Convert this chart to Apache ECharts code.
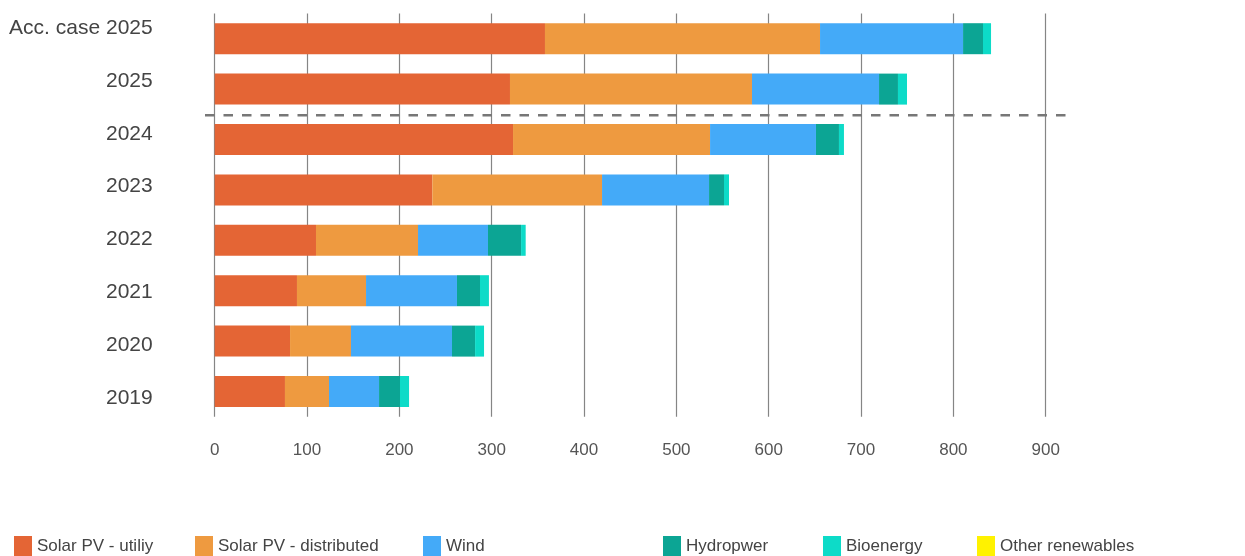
<!DOCTYPE html>
<html>
<head>
<meta charset="utf-8">
<script src="https://cdn.jsdelivr.net/npm/echarts@6/dist/echarts.min.js"></script>
<style>
html,body{margin:0;padding:0;background:#fff;}
#chart{width:1245px;height:556px;}
</style>
</head>
<body>
<div id="chart"></div>
<script>
const categories = ['Acc. case 2025','2025','2024','2023','2022','2021','2020','2019'];
const solarUtility = [357.7, 319.8, 323.1, 235.7, 109.7, 89.1, 81.6, 76.1];
const solarDistributed = [297.9, 262.1, 213.4, 183.8, 110.5, 74.8, 66.0, 47.7];
const wind = [154.9, 137.6, 114.7, 115.9, 75.8, 98.5, 109.4, 54.2];
const hydropower = [21.6, 20.5, 24.9, 16.2, 35.8, 24.9, 25.0, 22.7];
const bioenergy = [8.7, 9.8, 5.4, 5.4, 5.0, 9.7, 9.7, 9.8];
const otherRenewables = [0, 0, 0, 0, 0, 0, 0, 0];
const seriesNames = ['Solar PV - utiliy','Solar PV - distributed','Wind','Hydropwer','Bioenergy','Other renewables'];
const xTicks = [0, 100, 200, 300, 400, 500, 600, 700, 800, 900];

const colors = ['#E46535','#EE9A40','#44AAF8','#0CA594','#0DDBC8','#FFF200'];
const seriesData = [solarUtility, solarDistributed, wind, hydropower, bioenergy, otherRenewables];
const legendLefts = [14, 195, 423, 663, 823, 977];
const FONT = "'Liberation Sans', Arial, sans-serif";

const chart = echarts.init(document.getElementById('chart'), null, {renderer:'canvas'});

const option = {
  animation: false,
  color: colors,
  grid: [
    {left: 214.7, right: 199.3, top: 13.5, bottom: 556 - 416.7, containLabel: false},
    {left: 214.7, right: 199.3, top: 1.6, bottom: 556 - 424.4, containLabel: false}
  ],
  xAxis: [{
    type: 'value', gridIndex: 0, min: xTicks[0], max: xTicks[xTicks.length-1], interval: 100,
    axisLine: {show: false}, axisTick: {show: false},
    splitLine: {show: true, lineStyle: {color: '#858585', width: 1.2}},
    axisLabel: {color: '#555', fontFamily: FONT, fontSize: 17, margin: 25}
  }, {
    type: 'value', gridIndex: 1, min: 0, max: 1, show: false
  }],
  yAxis: [{
    type: 'category', gridIndex: 0, data: categories, inverse: true,
    axisLine: {show: false}, axisTick: {show: false}, axisLabel: {show: false}
  }, {
    type: 'category', gridIndex: 1, data: categories, inverse: true,
    axisLine: {show: false}, axisTick: {show: false}, splitLine: {show: false},
    axisLabel: {color: '#444', fontFamily: FONT, fontSize: 21, margin: 62}
  }],
  legend: seriesNames.map((n, i) => ({
    data: [n], left: legendLefts[i], top: 536, padding: 0,
    itemWidth: 18, itemHeight: 20, icon: 'rect',
    textStyle: {color: '#444', fontFamily: FONT, fontSize: 17},
    selectedMode: false
  })),
  series: seriesNames.map((n, i) => ({
    name: n, type: 'bar', stack: 'total', data: seriesData[i],
    xAxisIndex: 0, yAxisIndex: 0,
    barWidth: 31, itemStyle: {color: colors[i]}
  }))
};
chart.setOption(option);

const y1 = chart.convertToPixel({yAxisIndex: 0}, '2025');
const y2 = chart.convertToPixel({yAxisIndex: 0}, '2024');
const yDash = (y1 + y2) / 2 + 1;
chart.setOption({
  graphic: [{
    type: 'line', silent: true,
    shape: {x1: 205, y1: yDash, x2: 1068, y2: yDash},
    style: {stroke: '#777', lineWidth: 2.5, lineDash: [9.5, 9]}
  }]
});
</script>
</body>
</html>
